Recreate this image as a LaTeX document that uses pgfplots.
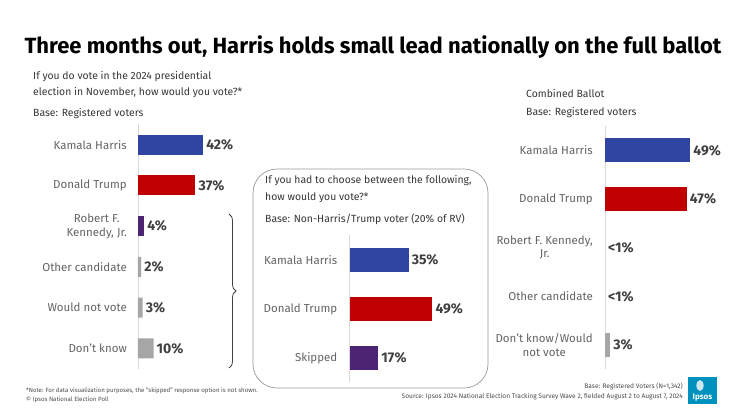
\documentclass[border=0pt]{standalone}
\usepackage{pgfplots}
\pgfplotsset{compat=1.18}
\usepackage{fontspec}
\setmainfont{Fira Sans}
\usetikzlibrary{decorations.pathreplacing}
\definecolor{hblue}{RGB}{47,69,161}
\definecolor{tred}{RGB}{192,0,0}
\definecolor{kpurple}{RGB}{75,37,115}
\definecolor{bgray}{RGB}{166,166,166}
\definecolor{labgray}{RGB}{100,100,100}
\definecolor{valgray}{RGB}{64,64,64}
\definecolor{qgray}{RGB}{55,55,55}
\definecolor{ipsos}{RGB}{0,145,190}
\pgfplotsset{panel/.style={
  xbar, scale only axis, clip=false,
  axis x line=none, axis y line=left,
  y axis line style={draw=black!15,-},
  y dir=reverse, xmin=0,
  major tick length=0pt, tick style={draw=none},
  yticklabel style={font=\fontsize{11.5}{13.5}\selectfont, text=labgray, align=center, inner sep=0pt},
  yticklabel shift=11pt,
  point meta=explicit symbolic,
  nodes near coords={\pgfplotspointmeta\%},
  every node near coord/.append style={font=\fontsize{14}{15}\selectfont\bfseries, text=valgray, inner sep=3pt, anchor=west, rotate=0},
  bar shift=0pt,
}}
\begin{document}
\begin{tikzpicture}[x=1pt,y=1pt]
\path[use as bounding box, fill=white] (0,0) rectangle (745,-419);
% title
\node[font=\fontsize{22}{25}\selectfont\bfseries, text=black] at (373,-47) {Three months out, Harris holds small lead nationally on the full ballot};
% texts
\begin{scope}[every node/.style={anchor=west, font=\fontsize{10.4}{12}\selectfont, text=qgray, inner sep=0pt}]
\node at (33,-77) {If you do vote in the 2024 presidential};
\node at (33,-93) {election in November, how would you vote?*};
\node at (33,-114) {Base: Registered voters};
\node at (265,-181) {If you had to choose between the following,};
\node at (265,-198) {how would you vote?*};
\node at (265,-219) {Base: Non-Harris/Trump voter (20\% of RV)};
\node at (526,-94) {Combined Ballot};
\node at (526,-113) {Base: Registered voters};
\end{scope}
% box and brace
\draw[black!40, line width=0.7pt, rounded corners=24pt] (253,-169) rectangle (488,-388);
\draw[black!75, line width=0.8pt, decorate, decoration={brace, amplitude=7pt}] (229,-214) -- (229,-368);
% left panel
\begin{axis}[panel, at={(138pt,-124.45pt)}, anchor=north west,
  width=100pt, height=244.2pt, xmax=64.5, ymin=-0.5, ymax=5.5, bar width=20pt,
  ytick={0,1,2,3,4,5},
  yticklabels={Kamala Harris, Donald Trump, {Robert F.\\Kennedy, Jr.}, Other candidate, Would not vote, Don't know}]
\addplot[fill=hblue, draw=none, bar shift=0pt] coordinates {(42,0)[42]};
\addplot[fill=tred, draw=none, bar shift=0pt] coordinates {(37,1)[37]};
\addplot[fill=kpurple, draw=none, bar shift=0pt] coordinates {(4,2)[4]};
\addplot[fill=bgray, draw=none, bar shift=0pt] coordinates {(2,3)[2] (3,4)[3] (10,5)[10]};
\end{axis}
% middle panel
\begin{axis}[panel, at={(349.5pt,-235.5pt)}, anchor=north west,
  width=120pt, height=147pt, xmax=71, ymin=-0.5, ymax=2.5, bar width=24pt,
  ytick={0,1,2},
  yticklabels={Kamala Harris, Donald Trump, Skipped}, yticklabel shift=12pt]
\addplot[fill=hblue, draw=none, bar shift=0pt] coordinates {(35,0)[35]};
\addplot[fill=tred, draw=none, bar shift=0pt] coordinates {(49,1)[49]};
\addplot[fill=kpurple, draw=none, bar shift=0pt] coordinates {(17,2)[17]};
\end{axis}
% right panel
\begin{axis}[panel, at={(605pt,-126.2pt)}, anchor=north west,
  width=120pt, height=243pt, xmax=69, ymin=-0.5, ymax=4.5, bar width=24pt,
  ytick={0,1,2,3,4},
  yticklabels={Kamala Harris, Donald Trump, {Robert F. Kennedy,\\Jr.}, Other candidate, {Don't know/Would\\not vote}}, yticklabel shift=12pt]
\addplot[fill=hblue, draw=none, bar shift=0pt] coordinates {(49,0)[49]};
\addplot[fill=tred, draw=none, bar shift=0pt] coordinates {(47,1)[47]};
\addplot[fill=none, draw=none, bar shift=0pt] coordinates {(0,2)[<1] (0,3)[<1]};
\addplot[fill=bgray, draw=none, bar shift=0pt] coordinates {(3,4)[3]};
\end{axis}
% footnotes
\begin{scope}[every node/.style={inner sep=0pt, text=black!70}]
\node[anchor=west, font=\fontsize{6.1}{7}\selectfont] at (26,-391) {*Note: For data visualization purposes, the “skipped” response option is not shown.};
\node[anchor=west, font=\fontsize{6.1}{7}\selectfont] at (26,-400) {© Ipsos National Election Poll};
\node[anchor=east, font=\fontsize{6.6}{8}\selectfont] at (683,-386) {Base: Registered Voters (N=1,342)};
\node[anchor=east, font=\fontsize{6.6}{8}\selectfont] at (683,-396.5) {Source: Ipsos 2024 National Election Tracking Survey Wave 2, fielded August 2 to August 7, 2024};
\end{scope}
% logo
\fill[ipsos] (688,-377) rectangle (717,-404);
\fill[white!80!ipsos] (700,-380) .. controls (695,-381) and (695,-390) .. (700,-391) .. controls (705,-390) and (705,-381) .. (700,-380);
\node[text=white, font=\fontsize{8}{9}\selectfont\bfseries, inner sep=0pt] at (702.5,-397.5) {Ipsos};
\end{tikzpicture}
\end{document}
